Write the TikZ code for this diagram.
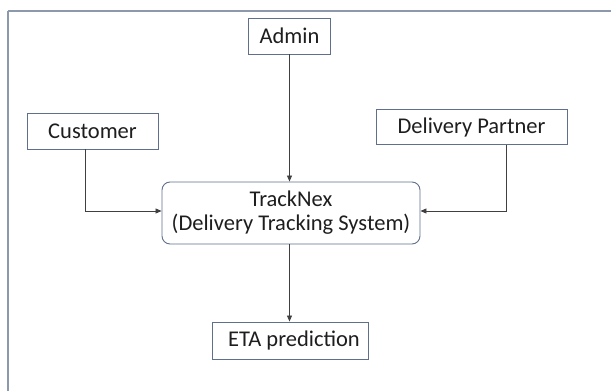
\documentclass[tikz,border=0pt]{standalone}
\usepackage{fontspec}
\setmainfont{Carlito}
\usepackage{xcolor}
\usetikzlibrary{arrows.meta,positioning}
\definecolor{boxline}{RGB}{96,112,140}
\definecolor{frameline}{RGB}{140,152,172}
\definecolor{inktext}{RGB}{30,30,30}
\tikzset{
  box/.style={draw=boxline, line width=0.9pt, fill=white, text=inktext, inner sep=0pt, font=\fontsize{22.5}{26}\selectfont},
  sysbox/.style={box, rounded corners=8pt, align=center},
  flowArrow/.style={-{Triangle[length=6pt,width=5pt]}, line width=0.8pt, draw=black!75}
}

\begin{document}
\begin{tikzpicture}[x=1pt,y=-1pt]
  \useasboundingbox (0,0) rectangle (611,391);
  \clip (0,0) rectangle (611,391);
  % outer frame, runs off the right and bottom edges
  \draw[frameline, line width=1.8pt] (8,11) -- (640,11) (8,11) -- (8,400);
  % actors and system
  \node[box, minimum width=82pt, minimum height=36pt] (Admin) at (289.5,36) {Admin};
  \node[box, minimum width=131pt, minimum height=36pt] (Customer) at (92.5,131) {Customer};
  \node[box, minimum width=191pt, minimum height=35pt] (Partner) at (471.5,127) {Delivery Partner};
  \node[sysbox, minimum width=258pt, minimum height=62pt] (Track) at (291,213) {TrackNex\\[-2pt](Delivery Tracking System)};
  \node[box, minimum width=156pt, minimum height=37pt] (ETA) at (290,340.5) {\hspace{8pt}ETA prediction};
  % connectors
  \draw[flowArrow] (Admin.south) -- (Admin.south |- Track.north);
  \draw[flowArrow] ([xshift=-7.5pt]Customer.south) |- ([yshift=2pt]Track.west);
  \draw[flowArrow] ([xshift=35pt]Partner.south) |- ([yshift=2pt]Track.east);
  \draw[flowArrow] (Track.south -| Admin.south) -- (ETA.north -| Admin.south);
\end{tikzpicture}
\end{document}
